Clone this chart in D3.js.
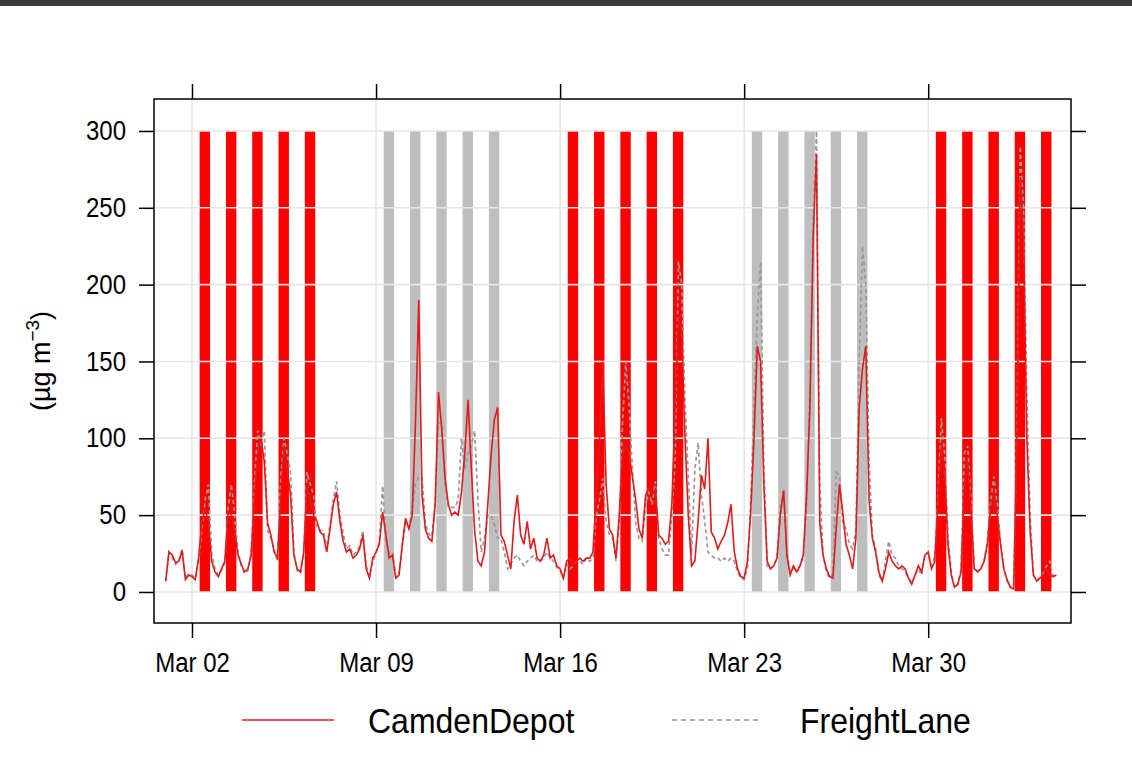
<!DOCTYPE html>
<html>
<head>
<meta charset="utf-8">
<script src="https://cdn.jsdelivr.net/npm/d3@7"></script>
<style>
  body { margin: 0; background: #ffffff; }
  svg { display: block; }
  text { font-family: "Liberation Sans", Arial, Helvetica, sans-serif; fill: #000; }
</style>
</head>
<body>
<svg id="chart" width="1132" height="770"></svg>
<script>
// ---- data ---------------------------------------------------------------
const seriesNames = ["CamdenDepot", "FreightLane"];

// 3-hourly concentrations (µg m-3), starting 1 March 2015 00:00 UTC
const startTime = "2015-03-01T00:00:00";
const stepHours = 3;

const camdenDepot = [
  7, 26, 24, 19, 20, 27, 8, 11,        // Mar 01
  10, 8, 22, 45, 55, 45, 20, 13,       // Mar 02
  10, 15, 20, 52, 50, 40, 24, 18,      // Mar 03
  13, 15, 24, 63, 90, 100, 85, 45,     // Mar 04
  37, 26, 22, 60, 95, 80, 63, 24,      // Mar 05
  15, 13, 26, 70, 60, 50, 46, 39,      // Mar 06
  37, 26, 41, 57, 65, 46, 33, 26,      // Mar 07
  28, 22, 24, 28, 37, 15, 9, 22,       // Mar 08
  26, 31, 52, 37, 22, 24, 9, 11,       // Mar 09
  31, 48, 41, 50, 110, 190, 63, 41,    // Mar 10
  35, 33, 57, 130, 106, 74, 57, 50,    // Mar 11
  52, 50, 65, 90, 125, 80, 40, 20,     // Mar 12
  17, 26, 57, 89, 112, 120, 37, 33,    // Mar 13
  24, 15, 46, 63, 37, 31, 46, 28,      // Mar 14
  35, 22, 20, 24, 35, 22, 24, 17,      // Mar 15
  15, 9, 20, 22, 17, 20, 22, 20,       // Mar 16
  22, 22, 26, 63, 100, 150, 70, 41,    // Mar 17
  37, 22, 50, 90, 95, 90, 75, 60,      // Mar 18
  41, 35, 63, 67, 63, 67, 37, 35,      // Mar 19
  31, 33, 57, 120, 180, 170, 100, 50,  // Mar 20
  17, 20, 46, 76, 67, 100, 39, 35,     // Mar 21
  28, 33, 37, 45, 57, 26, 15, 10,      // Mar 22
  9, 20, 52, 100, 160, 150, 70, 20,    // Mar 23
  15, 17, 22, 50, 66, 24, 11, 17,      // Mar 24
  13, 17, 24, 63, 120, 230, 285, 45,   // Mar 25
  24, 15, 10, 9, 41, 70, 52, 31,       // Mar 26
  24, 15, 35, 120, 145, 160, 60, 35,   // Mar 27
  26, 13, 7, 15, 26, 20, 17, 15,       // Mar 28
  17, 15, 9, 5, 11, 17, 13, 24,        // Mar 29
  26, 15, 20, 60, 95, 80, 31, 11,      // Mar 30
  3, 5, 13, 70, 85, 55, 15, 13,        // Mar 31
  15, 20, 31, 55, 65, 50, 31, 15,      // Apr 01
  8, 3, 2, 100, 270, 230, 100, 40,     // Apr 02
  11, 7, 9, 11, 15, 11, 10, 11         // Apr 03
];

const freightLane = [
  7, 26, 22, 18, 20, 28, 9, 12,        // Mar 01
  11, 9, 20, 40, 60, 70, 25, 15,       // Mar 02
  11, 14, 19, 55, 70, 50, 26, 17,      // Mar 03
  12, 14, 25, 70, 105, 95, 105, 40,    // Mar 04
  35, 28, 20, 75, 100, 90, 78, 26,     // Mar 05
  14, 12, 25, 78, 70, 63, 42, 40,      // Mar 06
  40, 28, 44, 60, 72, 50, 38, 28,      // Mar 07
  30, 24, 26, 30, 40, 17, 10, 20,      // Mar 08
  25, 33, 69, 35, 25, 26, 10, 12,      // Mar 09
  30, 45, 42, 55, 70, 75, 74, 45,      // Mar 10
  38, 36, 60, 110, 110, 70, 55, 55,    // Mar 11
  55, 60, 100, 80, 90, 95, 105, 60,    // Mar 12
  26, 35, 50, 50, 44, 35, 35, 26,      // Mar 13
  15, 18, 22, 24, 20, 17, 20, 22,      // Mar 14
  24, 20, 20, 22, 26, 22, 20, 16,      // Mar 15
  14, 9, 18, 15, 17, 20, 20, 18,       // Mar 16
  22, 20, 22, 50, 60, 74, 46, 37,      // Mar 17
  35, 20, 45, 110, 150, 120, 80, 45,   // Mar 18
  35, 33, 57, 65, 57, 72, 35, 28,      // Mar 19
  24, 24, 50, 85, 215, 200, 125, 75,   // Mar 20
  24, 80, 97, 63, 46, 26, 24, 22,      // Mar 21
  22, 20, 22, 20, 22, 20, 13, 9,       // Mar 22
  8, 15, 60, 120, 180, 215, 80, 17,    // Mar 23
  15, 17, 22, 55, 67, 26, 13, 15,      // Mar 24
  15, 17, 22, 57, 130, 240, 300, 70,   // Mar 25
  25, 13, 9, 12, 78, 76, 45, 41,       // Mar 26
  31, 28, 40, 150, 225, 200, 85, 37,   // Mar 27
  28, 11, 7, 20, 33, 24, 22, 17,       // Mar 28
  15, 13, 9, 6, 11, 15, 11, 24,        // Mar 29
  26, 15, 24, 63, 113, 90, 37, 13,     // Mar 30
  3, 5, 15, 90, 95, 60, 15, 14,        // Mar 31
  15, 20, 33, 59, 75, 57, 33, 15,      // Apr 01
  7, 3, 3, 110, 290, 250, 130, 50,     // Apr 02
  11, 8, 9, 12, 17, 20, 10, 11         // Apr 03
];

// shaded working-day periods and the campaign group each belongs to
const periodDays = [
  "2015-03-02", "2015-03-03", "2015-03-04", "2015-03-05", "2015-03-06",
  "2015-03-09", "2015-03-10", "2015-03-11", "2015-03-12", "2015-03-13",
  "2015-03-16", "2015-03-17", "2015-03-18", "2015-03-19", "2015-03-20",
  "2015-03-23", "2015-03-24", "2015-03-25", "2015-03-26", "2015-03-27",
  "2015-03-30", "2015-03-31", "2015-04-01", "2015-04-02", "2015-04-03"
];
const periodGroup = [
  "A", "A", "A", "A", "A",
  "B", "B", "B", "B", "B",
  "A", "A", "A", "A", "A",
  "B", "B", "B", "B", "B",
  "A", "A", "A", "A", "A"
];
const periodStartHour = 7;
const periodEndHour = 16.5;
const periodTop = 300;

const yTicks = [0, 50, 100, 150, 200, 250, 300];
const xTickDates = ["2015-03-02", "2015-03-09", "2015-03-16", "2015-03-23", "2015-03-30"];
const xLimits = ["2015-02-28T13:20:00", "2015-04-04T10:20:00"];
const yLimits = [-20.2, 320.8];

// ---- layout -------------------------------------------------------------
const svg = d3.select("#chart");
const W = 1132, H = 770;
const panel = { left: 154, right: 1071, top: 99, bottom: 623 };
const tickLen = 15;

const parseDT = d3.utcParse("%Y-%m-%dT%H:%M:%S");
const parseD = d3.utcParse("%Y-%m-%d");

const x = d3.scaleUtc()
  .domain(xLimits.map(parseDT))
  .range([panel.left, panel.right]);
const y = d3.scaleLinear()
  .domain(yLimits)
  .range([panel.bottom, panel.top]);

const t0 = parseDT(startTime);
const times = camdenDepot.map((_, i) => d3.utcHour.offset(t0, i * stepHours));
const rows = times.map((t, i) => ({ t, a: camdenDepot[i], b: freightLane[i] }));

// Text is set a little taller than its width would suggest: measure at the
// base size, then enlarge the glyphs while holding the advance width.
function tallText(sel, baseSize, tallSize) {
  sel.each(function () {
    const t = d3.select(this);
    t.attr("font-size", baseSize);
    const w = this.getComputedTextLength();
    t.attr("font-size", tallSize)
      .attr("textLength", w)
      .attr("lengthAdjust", "spacingAndGlyphs");
  });
}

// dark strip along the top edge of the page
svg.append("rect").attr("x", 0).attr("y", 0).attr("width", W).attr("height", 6)
  .attr("fill", "#393939");

const clipId = "panel-clip";
svg.append("clipPath").attr("id", clipId).append("rect")
  .attr("x", panel.left).attr("y", panel.top)
  .attr("width", panel.right - panel.left).attr("height", panel.bottom - panel.top);

const plot = svg.append("g").attr("clip-path", `url(#${clipId})`);

// shaded periods
const groupColour = { A: "#ff0000", B: "#bebebe" };
plot.append("g").selectAll("rect")
  .data(periodDays.map((d, i) => ({ day: parseD(d), g: periodGroup[i] })))
  .join("rect")
  .attr("x", d => x(d3.utcMinute.offset(d.day, periodStartHour * 60)))
  .attr("width", d => x(d3.utcMinute.offset(d.day, periodEndHour * 60)) - x(d3.utcMinute.offset(d.day, periodStartHour * 60)))
  .attr("y", y(periodTop))
  .attr("height", y(0) - y(periodTop))
  .attr("fill", d => groupColour[d.g]);

// reference grid
const grid = plot.append("g").attr("stroke", "#e6e6e6").attr("stroke-width", 1.6);
grid.selectAll("line.h").data(yTicks).join("line").attr("class", "h")
  .attr("x1", panel.left).attr("x2", panel.right)
  .attr("y1", d => y(d)).attr("y2", d => y(d));
grid.selectAll("line.v").data(xTickDates.map(parseD)).join("line").attr("class", "v")
  .attr("y1", panel.top).attr("y2", panel.bottom)
  .attr("x1", d => x(d)).attr("x2", d => x(d));

// series
const lineA = d3.line().x(d => x(d.t)).y(d => y(d.a));
const lineB = d3.line().x(d => x(d.t)).y(d => y(d.b));
plot.append("path").datum(rows).attr("d", lineB)
  .attr("fill", "none").attr("stroke", "#999999").attr("stroke-width", 1.7)
  .attr("stroke-dasharray", "4,3");
plot.append("path").datum(rows).attr("d", lineA)
  .attr("fill", "none").attr("stroke", "#e31a1c").attr("stroke-width", 1.6);

// panel frame
svg.append("rect")
  .attr("x", panel.left).attr("y", panel.top)
  .attr("width", panel.right - panel.left).attr("height", panel.bottom - panel.top)
  .attr("fill", "none").attr("stroke", "#000").attr("stroke-width", 1.5);

// axes (ticks on all four sides, labels bottom and left)
const fmt = d3.utcFormat("%b %d");
const xTicks = xTickDates.map(parseD);

const axBottom = d3.axisBottom(x).tickValues(xTicks).tickFormat(fmt).tickSize(tickLen).tickPadding(15);
const axTop = d3.axisTop(x).tickValues(xTicks).tickFormat("").tickSize(tickLen);
const axLeft = d3.axisLeft(y).tickValues(yTicks).tickSize(tickLen).tickPadding(13);
const axRight = d3.axisRight(y).tickValues(yTicks).tickFormat("").tickSize(tickLen);

function styleAxis(g) {
  g.select(".domain").remove();
  g.selectAll(".tick line").attr("stroke", "#000").attr("stroke-width", 1.5);
  g.selectAll(".tick text").attr("fill", "#000").call(tallText, 24, 27);
}
svg.append("g").attr("transform", `translate(0,${panel.bottom})`).call(axBottom).call(styleAxis);
svg.append("g").attr("transform", `translate(0,${panel.top})`).call(axTop).call(styleAxis);
svg.append("g").attr("transform", `translate(${panel.left},0)`).call(axLeft).call(styleAxis);
svg.append("g").attr("transform", `translate(${panel.right},0)`).call(axRight).call(styleAxis);

// y-axis title
const yTitle = svg.append("text")
  .attr("transform", `translate(50,${(panel.top + panel.bottom) / 2}) rotate(-90)`)
  .attr("text-anchor", "middle")
  .attr("font-size", 27);
yTitle.append("tspan").text("(µg m");
yTitle.append("tspan").attr("dy", -11).attr("font-size", 19).text("−3");
yTitle.append("tspan").attr("dy", 11).text(")");

// legend
const legend = svg.append("g").attr("transform", "translate(0,720)");
const legendItems = [
  { name: seriesNames[0], x1: 242, x2: 334, tx: 368, colour: "#e31a1c", dash: null },
  { name: seriesNames[1], x1: 672, x2: 762, tx: 800, colour: "#999999", dash: "5,4" }
];
legendItems.forEach(it => {
  legend.append("line").attr("x1", it.x1).attr("x2", it.x2).attr("y1", 0).attr("y2", 0)
    .attr("stroke", it.colour).attr("stroke-width", 1.7)
    .attr("stroke-dasharray", it.dash);
  legend.append("text").attr("x", it.tx).attr("y", 0).attr("dy", "0.36em")
    .text(it.name).call(tallText, 32, 35);
});
</script>
</body>
</html>
